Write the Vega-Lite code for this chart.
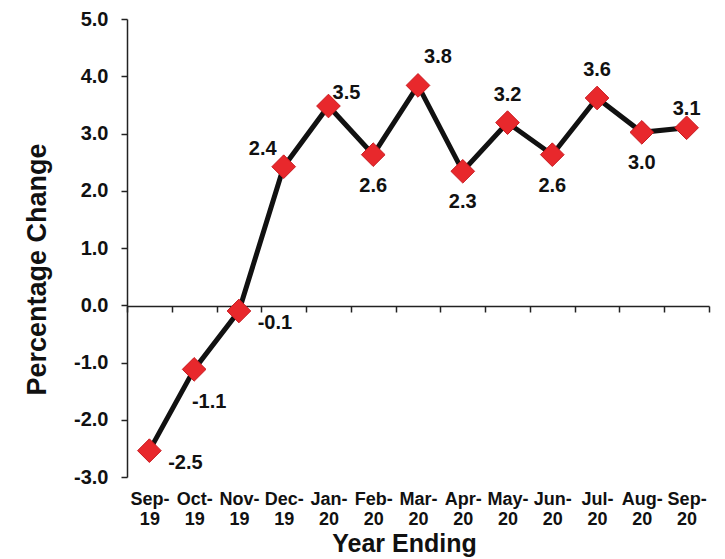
{
  "$schema": "https://vega.github.io/schema/vega-lite/v6.json",
  "width": 582,
  "height": 458,
  "autosize": {"type": "none"},
  "padding": {"left": 127, "top": 19, "right": 16, "bottom": 82},
  "background": "white",
  "config": {
    "locale": {
      "number": {"decimal": ".", "thousands": ",", "grouping": [3], "currency": ["$", ""], "minus": "-"}
    },
    "view": {"stroke": null},
    "font": "Liberation Sans",
    "axis": {
      "domainColor": "#222",
      "domainWidth": 1.5,
      "tickColor": "#222",
      "tickWidth": 1.5,
      "tickSize": 6,
      "labelColor": "#111",
      "labelFont": "Liberation Sans",
      "labelFontWeight": "bold",
      "titleFont": "Liberation Sans",
      "titleFontWeight": "bold",
      "titleColor": "#111",
      "grid": false
    }
  },
  "data": {
    "values": [
      {"month": "Sep-19", "change": -2.54},
      {"month": "Oct-19", "change": -1.12},
      {"month": "Nov-19", "change": -0.1},
      {"month": "Dec-19", "change": 2.42},
      {"month": "Jan-20", "change": 3.48},
      {"month": "Feb-20", "change": 2.63},
      {"month": "Mar-20", "change": 3.84},
      {"month": "Apr-20", "change": 2.34},
      {"month": "May-20", "change": 3.19},
      {"month": "Jun-20", "change": 2.63},
      {"month": "Jul-20", "change": 3.62},
      {"month": "Aug-20", "change": 3.02},
      {"month": "Sep-20", "change": 3.1}
    ]
  },
  "encoding": {
    "x": {
      "field": "month",
      "type": "nominal",
      "sort": null,
      "scale": {"paddingInner": 0, "paddingOuter": 0},
      "axis": {
        "orient": "bottom",
        "offset": -171,
        "tickBand": "extent",
        "labelAngle": 0,
        "labelFontSize": 18,
        "labelPadding": 178,
        "labelLineHeight": 20,
        "labelExpr": "[slice(datum.label,0,4), slice(datum.label,4)]",
        "title": "Year Ending",
        "titleFontSize": 25,
        "titleX": 277,
        "titleY": 225,
        "titleBaseline": "top"
      }
    },
    "y": {
      "field": "change",
      "type": "quantitative",
      "scale": {"domain": [-3, 5], "nice": false, "zero": false},
      "axis": {
        "values": [-3, -2, -1, 0, 1, 2, 3, 4, 5],
        "format": ".1f",
        "labelFontSize": 20,
        "labelPadding": 13,
        "title": "Percentage Change",
        "titleFontSize": 27,
        "titleX": -76,
        "titleY": 250,
        "titleBaseline": "bottom"
      }
    }
  },
  "layer": [
    {"mark": {"type": "line", "color": "#111", "strokeWidth": 5}},
    {"mark": {"type": "point", "shape": "diamond", "filled": true, "size": 560, "color": "#e8282c", "stroke": "#c81a20", "strokeWidth": 1, "opacity": 1}},
    {
      "transform": [{"filter": {"field": "month", "oneOf": ["Sep-19", "Nov-19"]}}],
      "mark": {"type": "text", "fontSize": 20, "fontWeight": "bold", "color": "#111", "dx": 36, "dy": 12},
      "encoding": {"text": {"field": "change", "format": ".1f"}}
    },
    {
      "transform": [{"filter": {"field": "month", "oneOf": ["Oct-19"]}}],
      "mark": {"type": "text", "fontSize": 20, "fontWeight": "bold", "color": "#111", "dx": 15, "dy": 33},
      "encoding": {"text": {"field": "change", "format": ".1f"}}
    },
    {
      "transform": [{"filter": {"field": "month", "oneOf": ["Dec-19"]}}],
      "mark": {"type": "text", "fontSize": 20, "fontWeight": "bold", "color": "#111", "dx": -21, "dy": -18},
      "encoding": {"text": {"field": "change", "format": ".1f"}}
    },
    {
      "transform": [{"filter": {"field": "month", "oneOf": ["Jan-20"]}}],
      "mark": {"type": "text", "fontSize": 20, "fontWeight": "bold", "color": "#111", "dx": 18, "dy": -13},
      "encoding": {"text": {"field": "change", "format": ".1f"}}
    },
    {
      "transform": [{"filter": {"field": "month", "oneOf": ["Mar-20"]}}],
      "mark": {"type": "text", "fontSize": 20, "fontWeight": "bold", "color": "#111", "dx": 20, "dy": -28},
      "encoding": {"text": {"field": "change", "format": ".1f"}}
    },
    {
      "transform": [{"filter": {"field": "month", "oneOf": ["Feb-20", "Apr-20", "Jun-20", "Aug-20"]}}],
      "mark": {"type": "text", "fontSize": 20, "fontWeight": "bold", "color": "#111", "dy": 31},
      "encoding": {"text": {"field": "change", "format": ".1f"}}
    },
    {
      "transform": [{"filter": {"field": "month", "oneOf": ["May-20", "Jul-20"]}}],
      "mark": {"type": "text", "fontSize": 20, "fontWeight": "bold", "color": "#111", "dy": -28},
      "encoding": {"text": {"field": "change", "format": ".1f"}}
    },
    {
      "transform": [{"filter": {"field": "month", "oneOf": ["Sep-20"]}}],
      "mark": {"type": "text", "fontSize": 20, "fontWeight": "bold", "color": "#111", "dy": -19},
      "encoding": {"text": {"field": "change", "format": ".1f"}}
    }
  ]
}
